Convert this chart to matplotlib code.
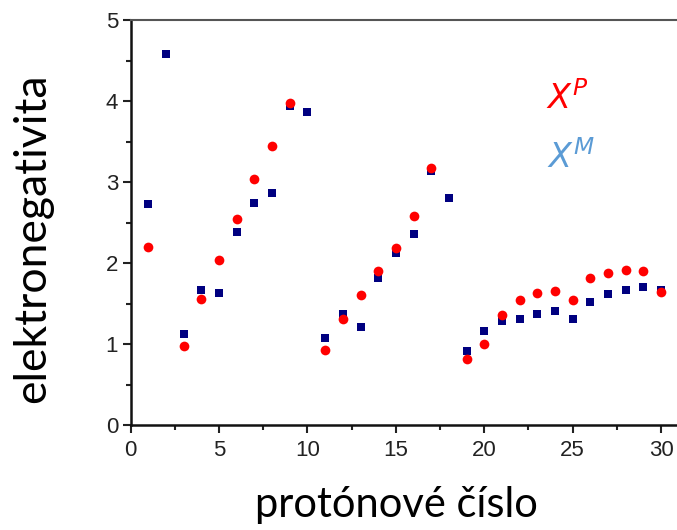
import matplotlib
matplotlib.use("Agg")
import matplotlib.pyplot as plt
from matplotlib.ticker import MultipleLocator

# protonove cislo a elektronegativity (X^P = Pauling, X^M = Mulliken)
z_p = [1, 3, 4, 5, 6, 7, 8, 9, 11, 12, 13, 14, 15, 16, 17,
       19, 20, 21, 22, 23, 24, 25, 26, 27, 28, 29, 30]
x_p = [2.20, 0.98, 1.56, 2.04, 2.55, 3.04, 3.44, 3.98, 0.93, 1.31, 1.61, 1.90, 2.19, 2.58, 3.18,
       0.82, 1.00, 1.36, 1.54, 1.63, 1.66, 1.55, 1.82, 1.88, 1.91, 1.90, 1.64]

z_m = [1, 2, 3, 4, 5, 6, 7, 8, 9, 10, 11, 12, 13, 14, 15, 16, 17, 18,
       19, 20, 21, 22, 23, 24, 25, 26, 27, 28, 29, 30]
x_m = [2.73, 4.58, 1.13, 1.67, 1.63, 2.38, 2.74, 2.86, 3.94, 3.86, 1.08, 1.37, 1.21, 1.81, 2.13, 2.36, 3.14, 2.80,
       0.92, 1.16, 1.28, 1.31, 1.37, 1.41, 1.31, 1.52, 1.62, 1.67, 1.70, 1.67]

plt.rcParams['font.family'] = ['Liberation Sans', 'DejaVu Sans']
plt.rcParams['mathtext.fontset'] = 'dejavusans'

fig = plt.figure(figsize=(6.77, 5.30), dpi=100)
ax = fig.add_axes([0.193, 0.198, 0.807, 0.764])

# ctverce nejdriv, kolecka navrch
ax.plot(z_m, x_m, 's', color='#000080', markersize=5.4, markeredgewidth=0)
ax.plot(z_p, x_p, 'o', color='#ff0000', markersize=7.0, markeredgewidth=0)

ax.set_xlim(0, 30.9)
ax.set_ylim(0, 5)
ax.xaxis.set_major_locator(MultipleLocator(5))
ax.xaxis.set_minor_locator(MultipleLocator(2.5))
ax.yaxis.set_major_locator(MultipleLocator(1))
ax.yaxis.set_minor_locator(MultipleLocator(0.5))
ax.tick_params(which='major', direction='out', length=6, width=1.5, labelsize=16, pad=3, colors='#222222')
ax.tick_params(axis='x', which='major', pad=5)
ax.tick_params(which='minor', direction='out', length=3.5, width=1.5, colors='#222222')

ax.spines['right'].set_visible(False)
ax.spines['top'].set_color('#555555')
ax.spines['top'].set_linewidth(1.5)
ax.spines['left'].set_color('#111111')
ax.spines['left'].set_linewidth(1.8)
ax.spines['bottom'].set_color('#111111')
ax.spines['bottom'].set_linewidth(1.8)

ax.set_xlabel('protónové číslo', fontsize=30, family=['Lato', 'DejaVu Sans'], va='center')
ax.xaxis.set_label_coords(0.486, -0.198)
ax.set_ylabel('elektronegativita', fontsize=32, family=['Lato', 'DejaVu Sans'], va='center')
ax.yaxis.set_label_coords(-0.179, 0.462)

ax.text(0.800, 0.805, r'$X^P$', color='#ff0000', fontsize=24, transform=ax.transAxes, ha='center', va='center')
ax.text(0.807, 0.661, r'$X^M$', color='#5b9bd5', fontsize=24, transform=ax.transAxes, ha='center', va='center')

fig.savefig('out.png', dpi=100)
